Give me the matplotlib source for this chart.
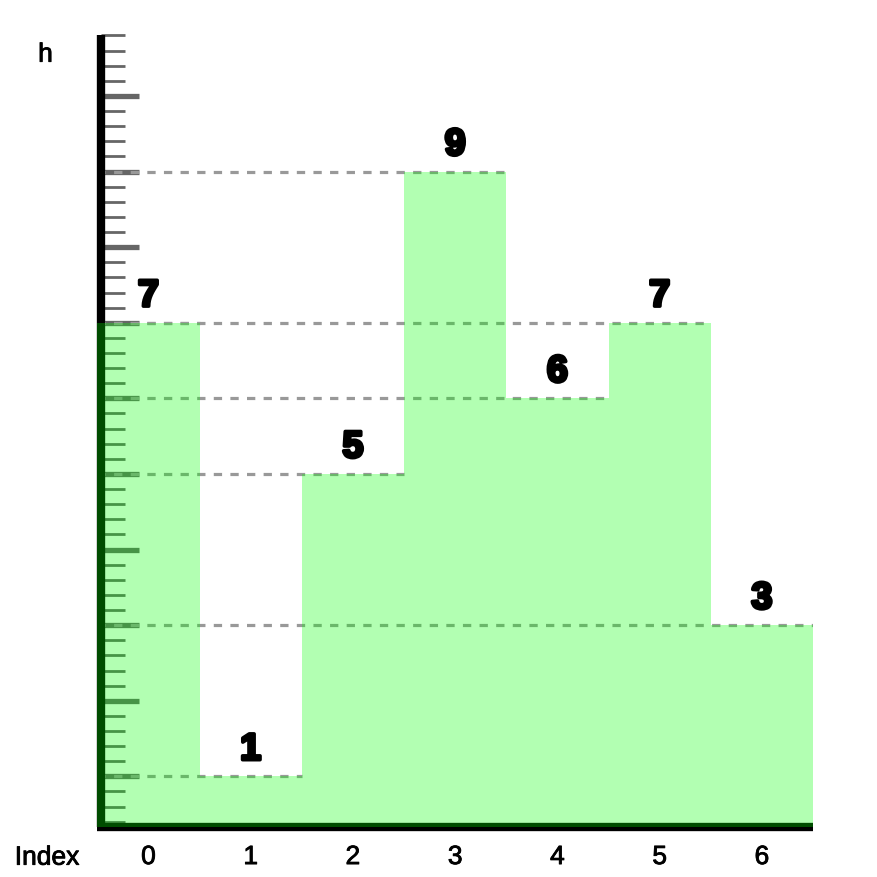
import matplotlib
matplotlib.use("Agg")
import matplotlib.pyplot as plt
import matplotlib.patheffects as pe
from matplotlib.ticker import MultipleLocator, FixedLocator

# Data
indices = [0, 1, 2, 3, 4, 5, 6]
heights = [7, 1, 5, 9, 6, 7, 3]
tick_labels = ["0", "1", "2", "3", "4", "5", "6"]
x_label = "Index"
y_label = "h"

W = H = 878
fig = plt.figure(figsize=(W / 100, H / 100), dpi=100)
left_px, right_px, top_px, bottom_px = 97.3, 813.0, 36.5, 828.0
ax = fig.add_axes([left_px / W, 1 - bottom_px / H,
                   (right_px - left_px) / W, (bottom_px - top_px) / H])

ax.set_xlim(-0.5, 6.5)
ax.set_ylim(0.33, 10.8)

# bars
ax.bar(indices, heights, width=1.0, color="lime", alpha=0.3,
       linewidth=0, zorder=3)

# dashed guide lines from axis to right edge of each bar
for i, h in zip(indices, heights):
    ax.hlines(h, -0.5, i + 0.5, colors="#999999", linewidth=2.3,
              linestyles=(0, (2.6, 2.6)), zorder=2)

# value labels (heavy weight)
heavy = [pe.withStroke(linewidth=2.6, foreground="black")]
for i, h in zip(indices, heights):
    ax.annotate(str(h), (i, h), xytext=(0, 12), textcoords="offset points",
                ha="center", va="baseline", fontsize=27,
                fontfamily="Liberation Sans", fontweight="bold",
                color="black", zorder=4, path_effects=heavy)

# spines
for s in ["top", "right"]:
    ax.spines[s].set_visible(False)
for s in ["left", "bottom"]:
    ax.spines[s].set_linewidth(6)
    ax.spines[s].set_color("black")
    ax.spines[s].set_capstyle("butt")
ax.spines["left"].set_position(("outward", -3))

# y ticks
ax.yaxis.set_major_locator(FixedLocator(list(range(1, 11))))
ax.yaxis.set_minor_locator(MultipleLocator(0.2))
ax.tick_params(axis="y", which="major", direction="in", length=27.5,
               width=3.8, color="#666666", labelleft=False)
ax.tick_params(axis="y", which="minor", direction="in", length=17,
               width=2.0, color="#666666", labelleft=False)

# x ticks
medium = [pe.withStroke(linewidth=0.6, foreground="black")]
ax.set_xticks(indices)
ax.set_xticklabels(tick_labels, fontsize=19, fontfamily="Liberation Sans")
for t in ax.get_xticklabels():
    t.set_path_effects(medium)
ax.tick_params(axis="x", which="both", length=0, pad=13)

fig.text(47 / W, 1 - 865.7 / H, x_label, ha="center", va="baseline",
         fontsize=19, fontfamily="Liberation Sans", path_effects=medium)
fig.text(45.5 / W, 1 - 62.7 / H, y_label, ha="center", va="baseline",
         fontsize=19, fontfamily="Liberation Sans", path_effects=medium)

fig.savefig("out.png", dpi=100)
